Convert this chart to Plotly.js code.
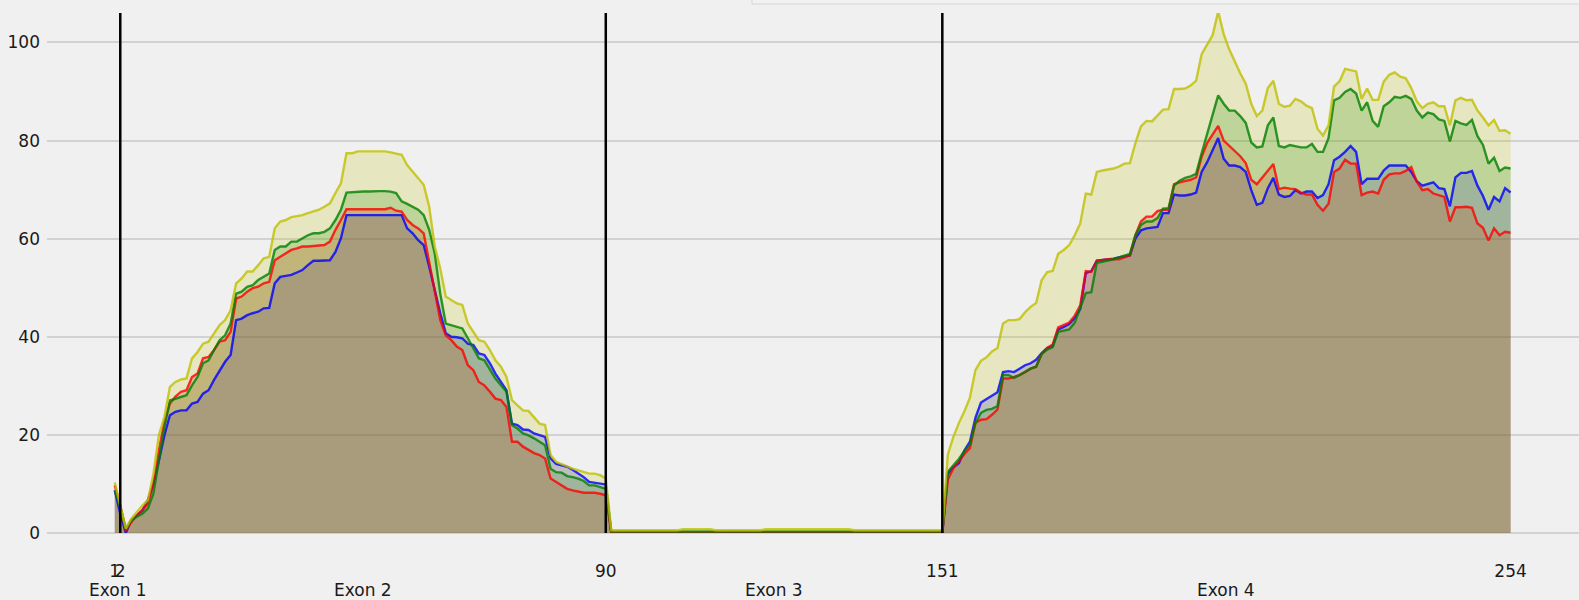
<!DOCTYPE html>
<html>
<head>
<meta charset="utf-8">
<script src="https://cdn.plot.ly/plotly-3.0.1.min.js"></script>
<style>
  html, body { margin: 0; padding: 0; background: #f0f0f0; }
  #chart { width: 1579px; height: 600px; }
</style>
</head>
<body>
<div id="chart"></div>
<script>
// Coverage per position (positions 1..254), four series
const yellowVals = [
  10.3,5.6,0.9,2.9,4.3,5.6,6.7,12,20,23.7,
  29.8,30.8,31.3,31.5,35.6,36.9,38.6,39,40.7,42.4,
  43.4,45.4,50.9,51.9,53.3,53.3,54.6,56,56.3,62.1,
  63.5,63.8,64.4,64.6,64.8,65.2,65.5,65.9,66.5,67.2,
  69.3,71.3,77.4,77.4,77.8,77.8,77.8,77.8,77.8,77.8,
  77.6,77.4,77.1,75,73.7,72.3,71,66.5,58.4,53.9,
  48.2,47.5,46.8,46.5,42.7,41,39.3,39,37.3,35.2,
  33.9,31.8,27.1,26,25,24.9,23.7,22.3,22,15.9,
  14.5,14.1,13.6,13.1,12.8,12.4,12.1,12.1,11.8,11.1,
  0.55,0.55,0.55,0.55,0.55,0.55,0.55,0.55,0.55,0.55,
  0.55,0.55,0.55,0.8,0.8,0.8,0.8,0.8,0.8,0.55,
  0.55,0.55,0.55,0.55,0.55,0.55,0.55,0.55,0.75,0.75,
  0.75,0.75,0.75,0.75,0.75,0.75,0.75,0.75,0.75,0.75,
  0.75,0.75,0.75,0.75,0.55,0.55,0.55,0.55,0.55,0.55,
  0.55,0.55,0.55,0.55,0.55,0.55,0.55,0.55,0.55,0.55,
  0.55,16,19.6,22.4,24.8,27.6,33.2,35.1,35.8,37,
  37.7,42.7,43.4,43.4,43.6,45,46.1,46.9,51.5,53.2,
  53.4,56.9,57.7,58.7,60.7,63.1,69.2,69,73.6,73.9,
  74.1,74.3,74.7,75.3,75.4,79.5,82.9,84,83.9,85,
  86.3,86.4,90.5,90.5,90.6,91.2,92.2,97.6,99.7,101.5,
  106.3,101.7,98.6,96,93.7,91.6,87.5,85,86.1,90.7,
  92.2,87.5,86.9,87.1,88.5,88,87.1,86.6,82.4,81,
  83.1,91,92.1,94.6,94.4,94.1,88.5,90.6,88.3,88.3,
  92,93.4,93.9,93,92.7,90.7,88,86.6,87.5,87.8,
  87,87,83.1,88.2,88.7,88.2,88.3,86.1,84.7,83.1,
  84.2,82,82.1,81.4
];

const greenVals = [
  8.7,5.3,0.9,2.6,3.3,3.9,5,8,14.8,21.6,
  27,27.4,27.8,28.1,30.1,31.8,34.6,35.2,37.3,39.3,
  40.3,42.7,48.8,49.2,50.2,50.5,51.6,52.2,52.9,57.7,
  58.4,58.4,59.4,59.4,60.1,60.7,61.1,61.1,61.4,62.1,
  63.8,65.9,69.4,69.5,69.5,69.6,69.6,69.7,69.7,69.7,
  69.6,69.3,67.6,67.1,66.5,65.9,64.8,61.8,57,48.8,
  42.7,42.4,42,41.7,39.7,37.6,35.6,35.2,33.2,31.5,
  30.1,28.8,22,21.3,20.3,19.9,19.3,18.6,17.9,13.1,
  12.4,12.3,11.6,11.4,11.1,10.6,9.7,9.7,9.4,9,
  0.3,0.3,0.3,0.3,0.3,0.3,0.3,0.3,0.3,0.3,
  0.3,0.3,0.3,0.3,0.3,0.3,0.3,0.3,0.3,0.3,
  0.3,0.3,0.3,0.3,0.3,0.3,0.3,0.3,0.3,0.3,
  0.3,0.3,0.3,0.3,0.3,0.3,0.3,0.3,0.3,0.3,
  0.3,0.3,0.3,0.3,0.3,0.3,0.3,0.3,0.3,0.3,
  0.3,0.3,0.3,0.3,0.3,0.3,0.3,0.3,0.3,0.3,
  0.3,12.5,13.8,15.1,16.7,18,22.4,24.5,25.1,25.3,
  25.9,32.2,32.2,31.6,32.2,32.8,33.5,33.9,36.5,37.4,
  37.9,41,41.2,41.5,42.9,45.7,48.9,49.1,55.1,55.3,
  55.5,55.8,56.2,56.5,56.9,60.7,62.8,63.5,63.5,64.2,
  66.1,66.2,70.8,71.8,72.4,72.7,73.2,77.4,81.2,85.4,
  89.2,87.5,86.1,86.1,85,83.6,79.6,78.6,78.8,83.1,
  84.7,78.9,78.6,79.1,78.8,78.6,78.6,79.3,77.7,77.7,
  80.5,88.2,88.7,89.9,90.5,89.6,86.1,87.8,84,82.8,
  87,87.8,88.9,88.7,89.1,88.5,86.1,84.7,85.7,85.4,
  84.3,84,79.8,84,83.5,83.2,84.2,80.9,79.1,75.3,
  76.5,73.8,74.5,74.3
];

const redVals = [
  9.7,5.6,0.5,2.2,3.6,4.6,6,10,16.9,22.7,
  26.4,27.8,28.8,29.1,31.8,32.5,35.6,35.9,37.3,39,
  39.3,41,47.8,48.2,49.2,49.9,50.2,50.9,51.2,55.6,
  56.3,57,57.7,58,58.4,58.4,58.5,58.7,58.7,59.4,
  61.8,63.8,66,66,66,66,66,66,66,66,
  66.3,65.7,65.5,63.8,62.8,62.1,61.1,55,48.8,43.4,
  40.3,39.3,38,37.3,34.2,33.2,30.8,30.1,28.8,27.4,
  27.1,25.7,18.6,18.6,17.6,16.9,16.3,15.9,15.2,11.1,
  10.4,9.7,9,8.7,8.4,8.2,8.2,8.2,8,7.7,
  0,0,0,0,0,0,0,0,0,0,
  0,0,0,0,0,0,0,0,0,0,
  0,0,0,0,0,0,0,0,0,0,
  0,0,0,0.1,0.1,0.1,0.1,0.1,0.1,0.1,
  0.1,0.1,0.1,0.1,0.1,0.1,0.1,0.1,0.1,0.1,
  0.1,0.1,0.1,0.1,0.1,0.1,0.1,0.1,0.1,0.1,
  0.1,10.9,13.2,14.6,16.1,17.3,22.5,23.1,23.2,24.1,
  25.2,31.5,31.5,31.8,32.2,32.8,33.5,33.9,36.5,37.7,
  38.4,41.9,42.4,42.9,44.3,46.4,53.4,53.2,55.5,55.7,
  55.8,55.8,55.8,56.2,56.6,60.7,63.5,64.5,64.5,65.6,
  65.9,65.9,71.1,71.5,71.8,72,72.5,76.7,79.5,81.2,
  83,80,78.9,77.7,76.8,75.4,72,71.1,72.4,73.7,
  75.2,70.1,70.4,70.2,70.1,69.4,69,69,66.9,65.7,
  67.1,73.6,74.3,76.1,75.3,75.3,68.9,69.4,69.6,69.2,
  72,73.1,73.3,73.3,73.8,74.6,71.6,69.9,70.1,69.2,
  68.9,68.5,63.5,66.4,66.4,66.5,66.3,63.1,62.2,59.6,
  62.1,60.7,61.4,61.2
];

const blueVals = [
  8.7,3.9,0,2.6,3.6,4.6,6.7,10,14.8,19.9,
  24,24.7,25,25,26.4,26.7,28.4,29.1,31.2,33.2,
  34.9,36.3,43.4,43.7,44.4,44.8,45.1,45.8,45.9,50.9,
  52.2,52.4,52.6,53.1,53.6,54.6,55.5,55.5,55.5,55.6,
  57.3,60.1,64.8,64.8,64.8,64.8,64.8,64.8,64.8,64.8,
  64.8,64.8,64.8,62.1,61.1,59.7,58.7,54.3,49.5,44.8,
  40.7,40,39.9,39.7,38.6,38.3,36.6,36.3,34.6,32.5,
  30.8,29.1,22.3,22,21.1,21,20.3,19.9,19.6,15.2,
  14.1,13.8,13.5,12.9,12.1,11.4,10.4,10.2,10.1,9.9,
  0,0,0,0,0,0,0,0,0,0,
  0,0,0,0,0,0,0,0,0,0,
  0,0,0,0,0,0,0,0,0,0,
  0,0,0,0,0,0,0,0,0,0,
  0,0,0,0,0,0,0,0,0,0,
  0,0,0,0,0,0,0,0,0,0,
  0,12.1,13.4,14.2,16.8,18.6,23.5,26.6,27.3,28,
  28.7,32.8,33,32.8,33.5,34.2,34.6,35.3,36.7,37.7,
  38.1,41.5,42,42.6,43.8,45.7,53,53.4,55.5,55.6,
  55.7,55.9,56.2,56.4,56.6,60,61.7,62.1,62.2,62.4,
  65.2,65.2,69,68.8,68.8,69,69.4,73.6,75.6,78.1,
  80.5,76.3,74.9,74.9,74.6,73.6,69.9,66.9,67.3,70.3,
  72.4,69,68.5,68.7,69.9,69.2,69.6,69.6,68.3,68.9,
  71.1,76,76.7,77.7,78.9,77.7,71.1,72.2,72.2,72.2,
  73.9,74.9,74.9,74.9,74.9,73.6,71.7,70.8,71.1,71.5,
  70.3,70.1,66.6,72.5,73.4,73.4,73.8,70.8,68.7,65.9,
  68.5,67.6,70.3,69.4
];

// Exon boundaries and labels
const exonBoundaries = [2, 90, 151];
const tickPositions = [1, 2, 90, 151, 254];
const tickLabels = ['1', '2', '90', '151', '254'];
const exonNames = ['Exon 1', 'Exon 2', 'Exon 3', 'Exon 4'];
const exonCenters = [1.5, 46, 120.5, 202.5];
const yTicks = [0, 20, 40, 60, 80, 100];

const positions = yellowVals.map((_, k) => k + 1);

const seriesList = [
  { vals: blueVals, rgb: '0,0,255' },
  { vals: redVals, rgb: '255,0,0' },
  { vals: greenVals, rgb: '0,128,0' },
  { vals: yellowVals, rgb: '191,191,0' }
];

// translucent areas first, lines on top of every area
const fillTraces = seriesList.map(s => ({
  x: positions, y: s.vals, type: 'scatter', mode: 'none',
  fill: 'tozeroy', fillcolor: 'rgba(' + s.rgb + ',0.2)',
  hoverinfo: 'skip', showlegend: false
}));
const lineTraces = seriesList.map(s => ({
  x: positions, y: s.vals, type: 'scatter', mode: 'lines',
  line: { color: 'rgba(' + s.rgb + ',0.8)', width: 2.4 },
  hoverinfo: 'x+y', showlegend: false
}));

const shapes = exonBoundaries.map(b => ({
  type: 'line', xref: 'x', yref: 'paper', x0: b, x1: b, y0: 0, y1: 1,
  line: { color: '#000000', width: 2.5 }
}));
// partially visible legend frame at the top
shapes.push({
  type: 'rect', xref: 'paper', yref: 'paper', x0: 0.4602, x1: 1.05, y0: 1.0173, y1: 1.3,
  line: { color: '#d6d6d6', width: 1 }, fillcolor: '#f2f2f2', layer: 'above'
});

const annotations = exonNames.map((n, k) => ({
  text: n, x: exonCenters[k], xref: 'x', y: -0.1105, yref: 'paper',
  showarrow: false, xanchor: 'center', yanchor: 'middle',
  font: { family: 'DejaVu Sans', size: 17, color: '#1a1a1a' }
}));

const layout = {
  width: 1579, height: 600,
  paper_bgcolor: '#f0f0f0', plot_bgcolor: '#f0f0f0',
  margin: { l: 47, r: 0, t: 13, b: 67, pad: 0 },
  font: { family: 'DejaVu Sans', size: 17, color: '#1a1a1a' },
  showlegend: false,
  xaxis: {
    range: [-11.28, 266.4], tickmode: 'array', tickvals: tickPositions, ticktext: tickLabels,
    tickangle: 0, showgrid: false, zeroline: false, showline: false, ticks: '',
    ticklabelstandoff: 26,
    tickfont: { family: 'DejaVu Sans', size: 17, color: '#1a1a1a' }
  },
  yaxis: {
    range: [0, 106], tickmode: 'array', tickvals: yTicks,
    showgrid: true, gridcolor: '#d2d2d2', gridwidth: 2,
    zeroline: true, zerolinecolor: '#d2d2d2', zerolinewidth: 2,
    showline: false, ticks: '', ticklabelstandoff: 6,
    tickfont: { family: 'DejaVu Sans', size: 17, color: '#1a1a1a' }
  },
  shapes: shapes,
  annotations: annotations
};

Plotly.newPlot('chart', fillTraces.concat(lineTraces), layout, { displayModeBar: false, staticPlot: true });
</script>
</body>
</html>
